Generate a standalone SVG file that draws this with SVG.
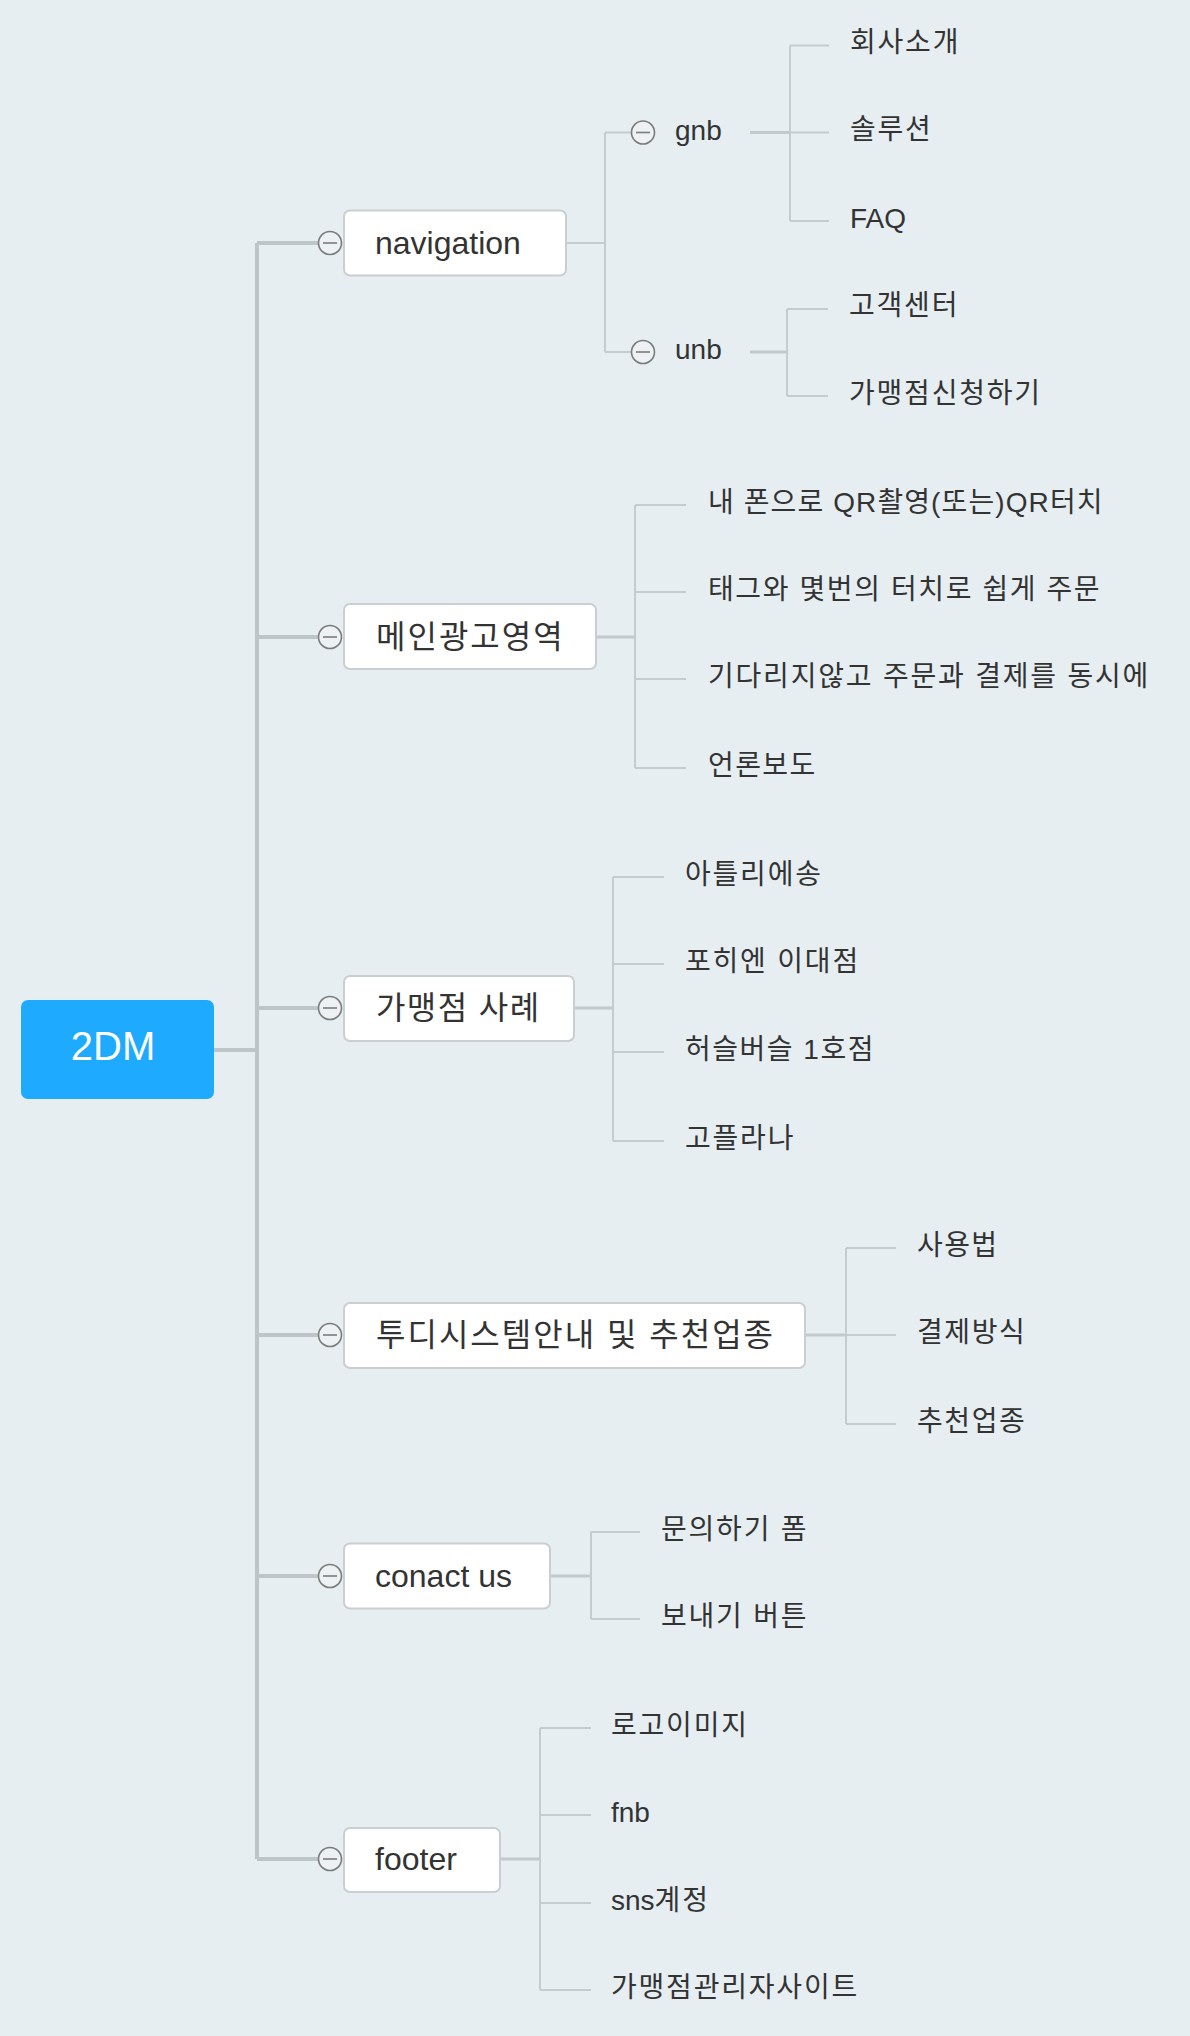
<svg xmlns="http://www.w3.org/2000/svg" width="1190" height="2036" viewBox="0 0 1190 2036">
<style>
.bg{fill:#e6eef2}
.root rect{fill:#1eaaff}
.root text{fill:#ffffff;font-family:"Liberation Sans","Noto Sans CJK KR",sans-serif;font-size:40px;text-anchor:middle}
.box rect{fill:#ffffff;stroke:#c9ced1;stroke-width:2}
.box text{fill:#333333;font-family:"Liberation Sans","Noto Sans CJK KR",sans-serif;font-size:32px}
.box text.ko{letter-spacing:2px}
.leaf text{fill:#333333;font-family:"Liberation Sans","Noto Sans CJK KR",sans-serif;font-size:28px}
.leaf text.ko{letter-spacing:1.8px}
.tog circle{fill:#edf1f3;stroke:#7b7b7b;stroke-width:1.6}
.tog line{stroke:#7b7b7b;stroke-width:1.6}
.trunk{fill:none;stroke:#bec5c9;stroke-width:4}
.mid{fill:none;stroke:#c3c9cd;stroke-width:3}
.thin{fill:none;stroke:#c5cbcf;stroke-width:2}
</style>
<defs>
<g id="tg" class="tog"><circle cx="0" cy="0" r="11.5"/><line x1="-7" y1="0" x2="7" y2="0"/></g>
</defs>
<rect class="bg" x="0" y="0" width="1190" height="2036"/>

<g id="connectors">
  <path class="trunk" d="M214 1050 H257 M257 243 V1859 M257 243 H320 M257 637 H320 M257 1008 H320 M257 1335 H320 M257 1576 H320 M257 1859 H320"/>
  <path class="thin" d="M566 243 H605 M605 132.5 V352 M605 132.5 H632 M605 352 H632"/>
  <path class="mid" d="M750 132.5 H790"/>
  <path class="thin" d="M790 45.5 V221 M790 45.5 H829 M790 132.5 H829 M790 221 H829"/>
  <path class="mid" d="M750 352 H787"/>
  <path class="thin" d="M787 309 V396 M787 309 H828 M787 396 H828"/>
  <path class="mid" d="M596 637 H635"/>
  <path class="thin" d="M635 505 V768 M635 505 H686 M635 592 H686 M635 679 H686 M635 768 H686"/>
  <path class="mid" d="M574 1008 H613"/>
  <path class="thin" d="M613 877 V1141 M613 877 H664 M613 964 H664 M613 1052 H664 M613 1141 H664"/>
  <path class="mid" d="M805 1335 H846"/>
  <path class="thin" d="M846 1248 V1424 M846 1248 H896 M846 1335 H896 M846 1424 H896"/>
  <path class="mid" d="M550 1576 H591"/>
  <path class="thin" d="M591 1532 V1619 M591 1532 H640 M591 1619 H640"/>
  <path class="mid" d="M500 1859 H540"/>
  <path class="thin" d="M540 1728 V1990 M540 1728 H591 M540 1815 H591 M540 1903 H591 M540 1990 H591"/>
</g>

<g id="root" class="root">
  <rect x="21" y="1000" width="193" height="99" rx="7"/>
  <text x="113" y="1060">2DM</text>
</g>

<g id="n-navigation" class="box">
  <use href="#tg" x="330" y="243"/>
  <rect x="344" y="210.5" width="222" height="65" rx="6"/>
  <text x="375" y="254">navigation</text>
</g>
<g id="n-gnb" class="leaf">
  <use href="#tg" x="643" y="132.5"/>
  <text x="675" y="140">gnb</text>
</g>
<g id="n-unb" class="leaf">
  <use href="#tg" x="643" y="352"/>
  <text x="675" y="359">unb</text>
</g>
<g id="l-1" class="leaf"><text class="ko" x="850" y="52">회사소개</text></g>
<g id="l-2" class="leaf"><text class="ko" x="850" y="139">솔루션</text></g>
<g id="l-3" class="leaf"><text x="850" y="228">FAQ</text></g>
<g id="l-4" class="leaf"><text class="ko" x="849" y="315">고객센터</text></g>
<g id="l-5" class="leaf"><text class="ko" x="849" y="403">가맹점신청하기</text></g>

<g id="n-main" class="box">
  <use href="#tg" x="330" y="637"/>
  <rect x="344" y="604" width="252" height="65" rx="6"/>
  <text class="ko" x="376" y="648">메인광고영역</text>
</g>
<g id="l-6" class="leaf"><text x="708" y="512" style="letter-spacing:1.1px">내 폰으로 QR촬영(또는)QR터치</text></g>
<g id="l-7" class="leaf"><text class="ko" x="708" y="599" style="letter-spacing:1.6px">태그와 몇번의 터치로 쉽게 주문</text></g>
<g id="l-8" class="leaf"><text class="ko" x="708" y="686">기다리지않고 주문과 결제를 동시에</text></g>
<g id="l-9" class="leaf"><text class="ko" x="708" y="775" style="letter-spacing:1.4px">언론보도</text></g>

<g id="n-case" class="box">
  <use href="#tg" x="330" y="1008"/>
  <rect x="344" y="976" width="230" height="65" rx="6"/>
  <text class="ko" x="376" y="1019" style="letter-spacing:1.4px">가맹점 사례</text>
</g>
<g id="l-10" class="leaf"><text class="ko" x="685" y="884">아틀리에송</text></g>
<g id="l-11" class="leaf"><text class="ko" x="685" y="971">포히엔 이대점</text></g>
<g id="l-12" class="leaf"><text class="ko" x="685" y="1059" style="letter-spacing:1.5px">허슬버슬 1호점</text></g>
<g id="l-13" class="leaf"><text class="ko" x="685" y="1148">고플라나</text></g>

<g id="n-system" class="box">
  <use href="#tg" x="330" y="1335"/>
  <rect x="344" y="1303" width="461" height="65" rx="6"/>
  <text class="ko" x="376" y="1346">투디시스템안내 및 추천업종</text>
</g>
<g id="l-14" class="leaf"><text class="ko" x="917" y="1255" style="letter-spacing:1.4px">사용법</text></g>
<g id="l-15" class="leaf"><text class="ko" x="917" y="1342" style="letter-spacing:1.6px">결제방식</text></g>
<g id="l-16" class="leaf"><text class="ko" x="917" y="1431" style="letter-spacing:1.6px">추천업종</text></g>

<g id="n-contact" class="box">
  <use href="#tg" x="330" y="1576"/>
  <rect x="344" y="1543.5" width="206" height="65" rx="6"/>
  <text x="375" y="1587">conact us</text>
</g>
<g id="l-17" class="leaf"><text class="ko" x="661" y="1539">문의하기 폼</text></g>
<g id="l-18" class="leaf"><text class="ko" x="661" y="1626">보내기 버튼</text></g>

<g id="n-footer" class="box">
  <use href="#tg" x="330" y="1859"/>
  <rect x="344" y="1828" width="156" height="64" rx="6"/>
  <text x="375" y="1870">footer</text>
</g>
<g id="l-19" class="leaf"><text class="ko" x="611" y="1735">로고이미지</text></g>
<g id="l-20" class="leaf"><text x="611" y="1822">fnb</text></g>
<g id="l-21" class="leaf"><text x="611" y="1910">sns<tspan style="letter-spacing:1.8px">계정</tspan></text></g>
<g id="l-22" class="leaf"><text class="ko" x="611" y="1997">가맹점관리자사이트</text></g>
</svg>
